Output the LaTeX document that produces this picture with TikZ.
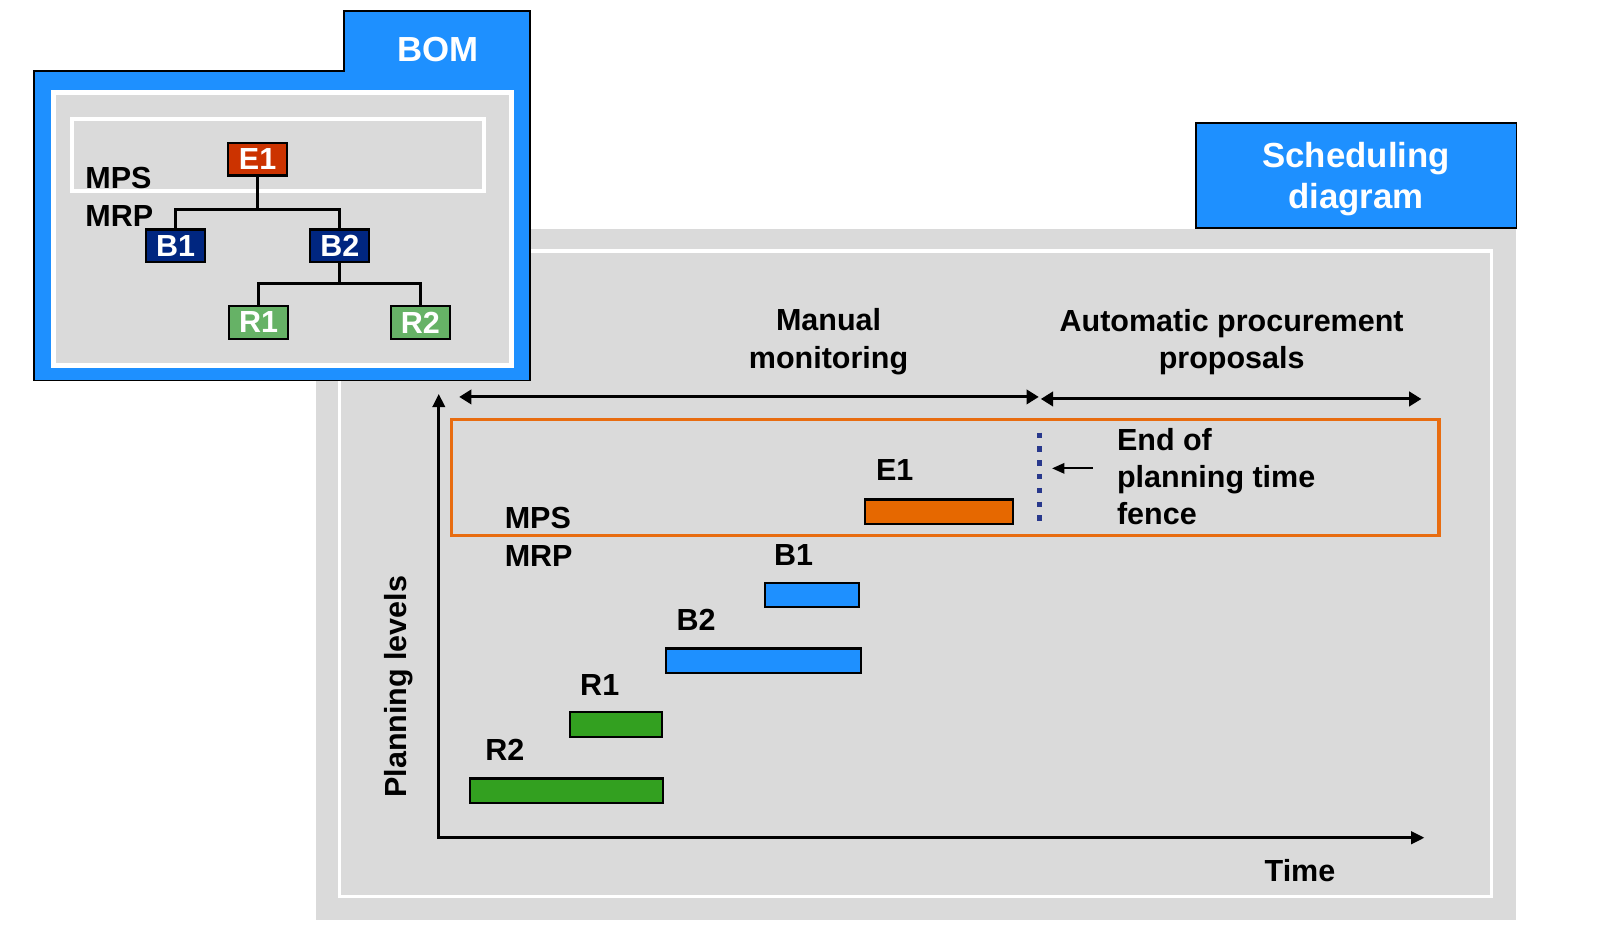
\documentclass[tikz,border=0pt]{standalone}
\usepackage{fontspec}
\setmainfont{Liberation Sans}
\usetikzlibrary{positioning,arrows.meta}
\definecolor{panelgray}{RGB}{218,218,218}
\definecolor{folderblue}{RGB}{30,144,255}
\definecolor{partred}{RGB}{204,51,0}
\definecolor{partnavy}{RGB}{0,38,128}
\definecolor{partgreen}{RGB}{102,178,102}
\definecolor{barblue}{RGB}{30,144,255}
\definecolor{bargreen}{RGB}{51,160,32}
\definecolor{barorange}{RGB}{230,104,0}
\definecolor{zoneorange}{RGB}{232,108,16}
\definecolor{fencenavy}{RGB}{40,56,140}
\newcommand{\lblfont}{\fontsize{8.5}{10.4}\selectfont\bfseries}
\newcommand{\hdrfont}{\fontsize{9.7}{11.7}\selectfont\bfseries}

\begin{document}
\begin{tikzpicture}[
    x=0.01cm, y=-0.01cm,
    lbl/.style={inner sep=0pt, font=\lblfont},
    hdr/.style={inner sep=0pt, font=\hdrfont, text=white, align=center},
    part/.style={draw, line width=0.6pt, minimum width=0.58cm, minimum height=0.32cm, inner sep=0pt, text=white, font=\lblfont},
    bar/.style={draw, line width=0.6pt, minimum height=0.24cm, inner sep=0pt},
    link/.style={line width=0.75pt},
    frame/.style={draw=white, line width=0.03cm},
    axis/.style={{Triangle[length=0.13cm, width=0.12cm]}-{Triangle[length=0.13cm, width=0.12cm]}, line width=0.85pt},
    twoway/.style={{Triangle[length=0.12cm, width=0.14cm]}-{Triangle[length=0.12cm, width=0.14cm]}, line width=0.85pt},
    arrow/.style={-{Triangle[length=0.12cm, width=0.1cm]}, line width=0.6pt},
    fencedots/.style={draw=fencenavy, line width=0.05cm, dash pattern=on 0.053cm off 0.082cm}
]
    \useasboundingbox (0,0) rectangle (1568,913);

    % scheduling diagram
    \fill[panelgray] (310,224.5) rectangle (1486,902);
    \draw[frame] (333,246) rectangle (1462,879);
    \node[draw=black, line width=0.5pt, fill=folderblue, minimum width=3.14cm, minimum height=1.03cm, inner sep=0pt] (schedbox) at (1329,172) {};
    \node[hdr] (schedtitle) at (1329,175.5) {Scheduling\\diagram};

    \node[lbl, align=center] (manual) at (812,335) {Manual\\monitoring};
    \node[lbl, align=center] (auto) at (1207,335.5) {Automatic procurement\\proposals};
    \coordinate (manstart) at (450,389);
    \coordinate (fenceleft) at (1018,389);
    \coordinate (fenceright) at (1020,391);
    \coordinate (autoend) at (1393,391);
    \draw[twoway] (manstart) -- (fenceleft);
    \draw[twoway] (fenceright) -- (autoend);

    \node[draw=zoneorange, line width=0.033cm, minimum width=9.67cm, minimum height=1.14cm, inner sep=0pt] (mpszone) at (926.5,468) {};

    \coordinate (origin) at (430,821);
    \coordinate (ytop) at (430,386);
    \coordinate (xend) at (1396,821);
    \draw[axis] (ytop) -- (origin) -- (xend);
    \node[lbl] (timelbl) at (1274,853) {Time};
    \node[lbl, rotate=90] (levels) at (391,673) {Planning levels};

    \node[lbl, anchor=base west] (mpslbl) at (494,518) {MPS};
    \node[lbl, anchor=base west] (mrplbl) at (494,555) {MRP};

    \node[bar, fill=barorange, minimum width=1.45cm] (e1bar) at (920.5,501.5) {};
    \node[bar, fill=barblue, minimum width=0.92cm] (b1bar) at (796,583) {};
    \node[bar, fill=barblue, minimum width=1.91cm] (b2bar) at (748,647.5) {};
    \node[bar, fill=bargreen, minimum width=0.9cm] (r1bar) at (604,710) {};
    \node[bar, fill=bargreen, minimum width=1.89cm] (r2bar) at (555.5,775) {};
    \node[lbl, above right=0.165cm and 0.11cm of e1bar.north west] (e1lbl) {E1};
    \node[lbl, above right=0.155cm and 0.09cm of b1bar.north west] (b1lbl) {B1};
    \node[lbl, above right=0.16cm and 0.11cm of b2bar.north west] (b2lbl) {B2};
    \node[lbl, above right=0.15cm and 0.1cm of r1bar.north west] (r1lbl) {R1};
    \node[lbl, above right=0.16cm and 0.15cm of r2bar.north west] (r2lbl) {R2};

    \coordinate (fencehigh) at (1019,424);
    \coordinate (fencelow) at (1019,511);
    \draw[fencedots] (fencehigh) -- (fencelow);
    \node[lbl, align=left, anchor=west] (fencenote) at (1094,467) {End of\\planning time\\fence};
    \coordinate (notetail) at (1071,459);
    \coordinate (notehead) at (1031,459);
    \draw[arrow] (notetail) -- (notehead);

    % bill of material
    \filldraw[fill=folderblue, draw=black, line width=0.5pt] (33,69.5) -- (337.5,69.5) -- (337.5,10.5) -- (519.5,10.5) -- (519.5,373) -- (33,373) -- cycle;
    \filldraw[fill=panelgray, draw=white, line width=0.05cm] (52.5,90.5) rectangle (501.5,358);
    \draw[draw=white, line width=0.04cm] (70.5,116.5) rectangle (474,187.5);
    \node[hdr] (bomtitle) at (429.5,48.5) {BOM};
    \node[lbl, anchor=base west] (bommps) at (83,185) {MPS};
    \node[lbl, anchor=base west] (bommrp) at (83,222) {MRP};

    \node[part, fill=partred] (bome1) at (252.5,156) {E1};
    \node[part, fill=partnavy] (bomb1) at (172,241) {B1};
    \node[part, fill=partnavy] (bomb2) at (333,241) {B2};
    \node[part, fill=partgreen] (bomr1) at (253.5,316) {R1};
    \node[part, fill=partgreen] (bomr2) at (412,316) {R2};
    \coordinate (e1fork) at (252.5,205);
    \coordinate (b2fork) at (333,278);
    \draw[link] (bome1) -- (e1fork) -| (bomb1);
    \draw[link] (e1fork) -| (bomb2);
    \draw[link] (bomb2) -- (b2fork) -| (bomr1);
    \draw[link] (b2fork) -| (bomr2);
\end{tikzpicture}
\end{document}
